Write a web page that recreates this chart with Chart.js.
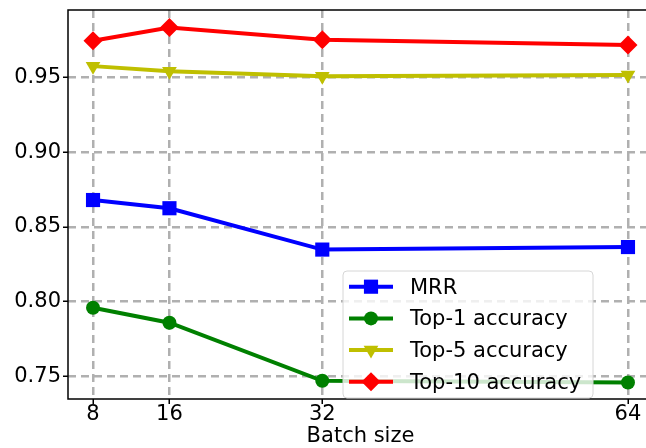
<!DOCTYPE html>
<html><head><meta charset="utf-8">
<script src="https://cdn.jsdelivr.net/npm/chart.js@4"></script>
<style>html,body{margin:0;padding:0;overflow:hidden;background:#fff}canvas{display:block}</style>
</head><body>
<canvas id="c" width="663" height="448"></canvas>
<script>
const batchSizes = [8, 16, 32, 64];
const mrr = [0.868, 0.8625, 0.8348, 0.8365];
const top1 = [0.7958, 0.7858, 0.7469, 0.7458];
const top5 = [0.9577, 0.9542, 0.9510, 0.9518];
const top10 = [0.9747, 0.9835, 0.9753, 0.9718];
const yTicks = [0.75, 0.80, 0.85, 0.90, 0.95];
const xTicks = [8, 16, 32, 64];
const seriesNames = ['MRR', 'Top-1 accuracy', 'Top-5 accuracy', 'Top-10 accuracy'];
const xTitle = 'Batch size';

const FONT = 'DejaVu Sans';
const FS = 21;

function mk(label, vals, color, style, radius, rotation, order) {
  return {
    label, data: batchSizes.map((x, i) => ({x, y: vals[i]})),
    borderColor: color, backgroundColor: color,
    pointBackgroundColor: color, pointBorderColor: color,
    borderWidth: 4, pointStyle: style, pointRadius: radius, pointHoverRadius: radius,
    pointRotation: rotation, pointBorderWidth: 0, tension: 0, order
  };
}
const datasets = [
  mk(seriesNames[0], mrr, '#0000ff', 'rect', 10, 0, 3),
  mk(seriesNames[1], top1, '#008000', 'circle', 7, 0, 2),
  mk(seriesNames[2], top5, '#bfbf00', 'triangle', 8.5, 180, 1),
  mk(seriesNames[3], top10, '#ff0000', 'rectRot', 9.5, 0, 0)
];

const spinePlugin = {
  id: 'spines',
  afterDatasetsDraw(chart) {
    const {ctx, chartArea: a} = chart;
    ctx.save();
    ctx.strokeStyle = '#000';
    ctx.lineWidth = 1.5;
    ctx.strokeRect(a.left, a.top, a.right - a.left, a.bottom - a.top);
    ctx.restore();
  }
};

const legendPlugin = {
  id: 'mplLegend',
  afterDraw(chart) {
    const {ctx, chartArea: a} = chart;
    const x0 = a.left + 275, y0 = a.bottom - 128, w = 250, h = 127;
    ctx.save();
    ctx.beginPath();
    ctx.roundRect(x0, y0, w, h, 4);
    ctx.fillStyle = 'rgba(255,255,255,0.8)';
    ctx.fill();
    ctx.strokeStyle = '#d6d6d6';
    ctx.lineWidth = 1;
    ctx.stroke();
    chart.data.datasets.forEach((ds, i) => {
      const cy = y0 + 15.7 + i * 31.7;
      ctx.strokeStyle = ds.borderColor;
      ctx.lineWidth = ds.borderWidth;
      ctx.beginPath();
      ctx.moveTo(x0 + 6, cy);
      ctx.lineTo(x0 + 50, cy);
      ctx.stroke();
      ctx.fillStyle = ds.pointBackgroundColor;
      Chart.helpers.drawPoint(ctx, {pointStyle: ds.pointStyle, radius: ds.pointRadius, rotation: ds.pointRotation, borderWidth: 0}, x0 + 28, cy);
      ctx.fillStyle = '#000';
      ctx.font = FS + 'px "' + FONT + '"';
      ctx.textBaseline = 'middle';
      ctx.textAlign = 'left';
      ctx.fillText(ds.label, x0 + 67, cy + 1.5);
    });
    ctx.restore();
  }
};

const gridOpts = {color: '#b0b0b0', lineWidth: 2.5, tickLength: 5, tickColor: '#000', tickWidth: 1.5, tickBorderDash: []};
const borderOpts = {display: false, dash: [8, 5]};

new Chart(document.getElementById('c'), {
  type: 'line',
  data: {datasets},
  options: {
    responsive: false,
    animation: false,
    events: [],
    layout: {padding: {left: 0, top: 9, right: 0, bottom: 0}},
    plugins: {legend: {display: false}, tooltip: {enabled: false}},
    scales: {
      x: {
        type: 'linear', min: 5.38, max: 66.62,
        afterBuildTicks: s => { s.ticks = xTicks.map(v => ({value: v})); },
        afterFit: s => { s.height = 49; s.paddingLeft = 0; s.paddingRight = 0; },
        grid: gridOpts,
        border: borderOpts,
        ticks: {color: '#000', font: {family: FONT, size: FS, lineHeight: 1}, padding: 0, maxRotation: 0, autoSkip: false,
                callback: v => String(v)},
        title: {display: true, text: xTitle, color: '#000', font: {family: FONT, size: FS, lineHeight: 1}, padding: {top: 0, bottom: 1}}
      },
      y: {
        type: 'linear', min: 0.7347, max: 0.9953,
        afterBuildTicks: s => { s.ticks = yTicks.map(v => ({value: v})); },
        afterFit: s => { s.width = 68; s.paddingTop = 0; s.paddingBottom = 0; },
        grid: gridOpts,
        border: borderOpts,
        ticks: {color: '#000', font: {family: FONT, size: FS}, padding: 2, autoSkip: false,
                callback: v => v.toFixed(2)}
      }
    }
  },
  plugins: [spinePlugin, legendPlugin]
});
</script>
</body></html>
